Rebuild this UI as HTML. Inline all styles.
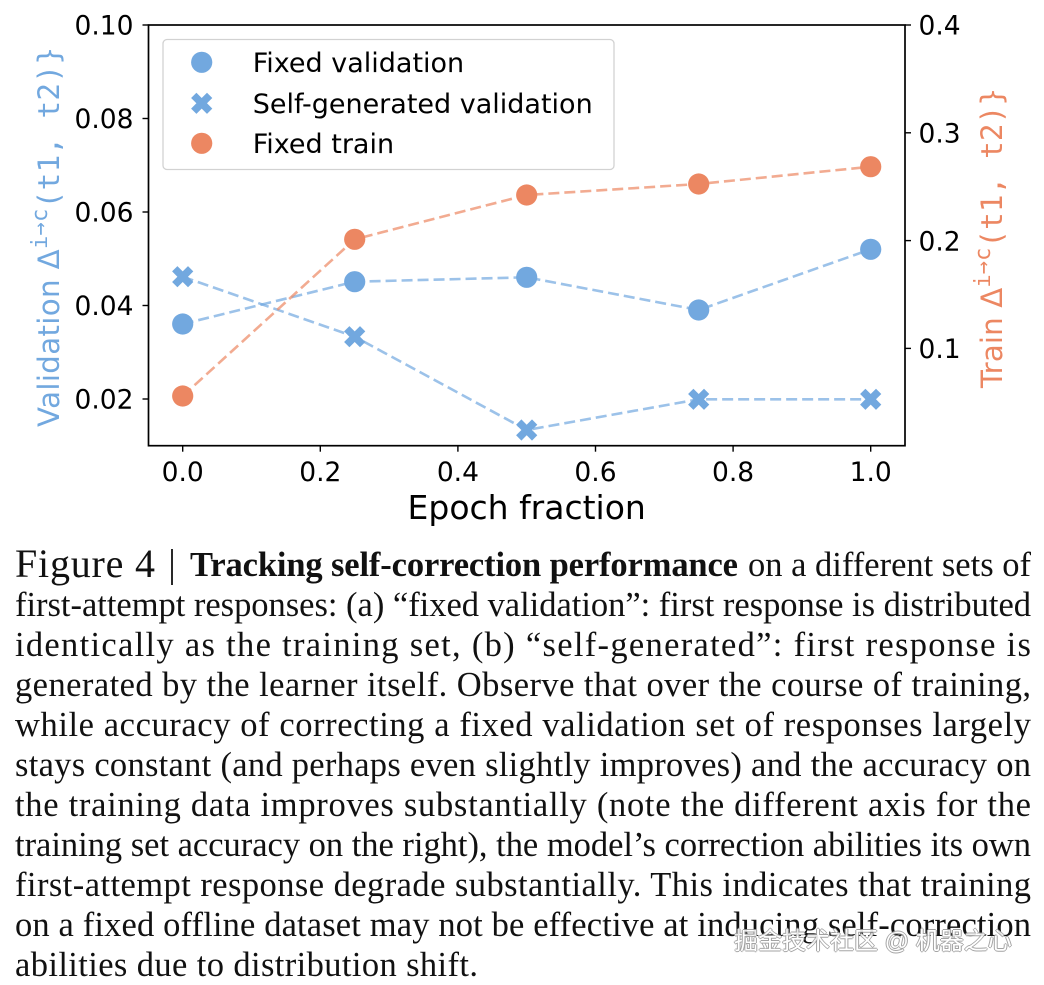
<!DOCTYPE html>
<html>
<head>
<meta charset="utf-8">
<style>
  html, body { margin: 0; padding: 0; background: #fff; }
  body { width: 1044px; height: 985px; overflow: hidden; position: relative; }
  svg { position: absolute; left: 0; top: 0; }
  .wm {
    position: absolute; left: 734px; top: 927px;
    font-family: "Liberation Sans", "Noto Sans CJK SC", sans-serif;
    font-size: 24px; line-height: 30px; color: #fff; white-space: nowrap;
    text-shadow: 1px 0 0 #9a9a9a, -1px 0 0 #9a9a9a, 0 1px 0 #9a9a9a, 0 -1px 0 #9a9a9a;
    opacity: 0.9;
  }
</style>
</head>
<body>
<svg width="1044" height="985" viewBox="0 0 1044 985" xmlns="http://www.w3.org/2000/svg">
  <defs>
    <path id="xm" d="M-5.3,-10.6 L0,-5.3 L5.3,-10.6 L10.6,-5.3 L5.3,0 L10.6,5.3 L5.3,10.6 L0,5.3 L-5.3,10.6 L-10.6,5.3 L-5.3,0 L-10.6,-5.3 Z"/>
  </defs>

  <!-- left-axis series lines -->
  <polyline points="182.7,324 354.7,281.7 526.7,277.3 698.7,310 870.7,249.3" fill="none" stroke="#72a8df" stroke-opacity="0.7" stroke-width="2.6" stroke-dasharray="11 5"/>
  <polyline points="182.7,276.7 354.7,336.7 526.7,430 698.7,399.3 870.7,399.3" fill="none" stroke="#72a8df" stroke-opacity="0.7" stroke-width="2.6" stroke-dasharray="11 5"/>
  <g fill="#72a8df">
    <circle cx="182.7" cy="324" r="10.6"/>
    <circle cx="354.7" cy="281.7" r="10.6"/>
    <circle cx="526.7" cy="277.3" r="10.6"/>
    <circle cx="698.7" cy="310" r="10.6"/>
    <circle cx="870.7" cy="249.3" r="10.6"/>
  </g>
  <g fill="#72a8df">
    <use href="#xm" x="182.7" y="276.7"/>
    <use href="#xm" x="354.7" y="336.7"/>
    <use href="#xm" x="526.7" y="430"/>
    <use href="#xm" x="698.7" y="399.3"/>
    <use href="#xm" x="870.7" y="399.3"/>
  </g>
  <polyline points="182.7,396 354.7,239.3 526.7,195 698.7,184 870.7,166.7" fill="none" stroke="#ec8762" stroke-opacity="0.7" stroke-width="2.6" stroke-dasharray="11 5"/>
  <g fill="#ec8762">
    <circle cx="182.7" cy="396" r="10.6"/>
    <circle cx="354.7" cy="239.3" r="10.6"/>
    <circle cx="526.7" cy="195" r="10.6"/>
    <circle cx="698.7" cy="184" r="10.6"/>
    <circle cx="870.7" cy="166.7" r="10.6"/>
  </g>

  <rect x="148.5" y="25" width="756.5" height="420.7" fill="none" stroke="#000" stroke-width="1.7"/>

  <g stroke="#000" stroke-width="1.4">
    <line x1="142.5" y1="25" x2="148.5" y2="25"/>
    <line x1="142.5" y1="118.5" x2="148.5" y2="118.5"/>
    <line x1="142.5" y1="212" x2="148.5" y2="212"/>
    <line x1="142.5" y1="305.5" x2="148.5" y2="305.5"/>
    <line x1="142.5" y1="399" x2="148.5" y2="399"/>
    <line x1="905" y1="25" x2="911" y2="25"/>
    <line x1="905" y1="132.8" x2="911" y2="132.8"/>
    <line x1="905" y1="240.6" x2="911" y2="240.6"/>
    <line x1="905" y1="348.4" x2="911" y2="348.4"/>
    <line x1="182.7" y1="445.7" x2="182.7" y2="451.7"/>
    <line x1="320.3" y1="445.7" x2="320.3" y2="451.7"/>
    <line x1="457.9" y1="445.7" x2="457.9" y2="451.7"/>
    <line x1="595.5" y1="445.7" x2="595.5" y2="451.7"/>
    <line x1="733.1" y1="445.7" x2="733.1" y2="451.7"/>
    <line x1="870.7" y1="445.7" x2="870.7" y2="451.7"/>
  </g>

  <g font-family="'DejaVu Sans', 'Liberation Sans', sans-serif" font-size="26.5" fill="#000">
    <g text-anchor="end">
      <text x="133.5" y="34.7">0.10</text>
      <text x="133.5" y="128.2">0.08</text>
      <text x="133.5" y="221.7">0.06</text>
      <text x="133.5" y="315.2">0.04</text>
      <text x="133.5" y="408.7">0.02</text>
    </g>
    <g text-anchor="start">
      <text x="918.5" y="34.7">0.4</text>
      <text x="918.5" y="142.5">0.3</text>
      <text x="918.5" y="250.3">0.2</text>
      <text x="918.5" y="358.1">0.1</text>
    </g>
    <g text-anchor="middle">
      <text x="182.7" y="481">0.0</text>
      <text x="320.3" y="481">0.2</text>
      <text x="457.9" y="481">0.4</text>
      <text x="595.5" y="481">0.6</text>
      <text x="733.1" y="481">0.8</text>
      <text x="870.7" y="481">1.0</text>
    </g>
    <text x="526.7" y="519" text-anchor="middle" font-size="33">Epoch fraction</text>
  </g>

  <text transform="translate(59,427) rotate(-90)" font-family="'DejaVu Sans', sans-serif" font-size="29.3" fill="#72a8df" textLength="380">Validation Δ<tspan font-family="'DejaVu Sans Mono', monospace" font-size="22" dy="-12">i→c</tspan><tspan font-family="'DejaVu Sans Mono', monospace" font-size="29.3" dy="12">(t1, t2)}</tspan></text>
  <text transform="translate(1002,388) rotate(-90)" font-family="'DejaVu Sans', sans-serif" font-size="29.3" fill="#ec8762" textLength="300">Train Δ<tspan font-family="'DejaVu Sans Mono', monospace" font-size="22" dy="-12">i→c</tspan><tspan font-family="'DejaVu Sans Mono', monospace" font-size="29.3" dy="12">(t1, t2)}</tspan></text>

  <rect x="163" y="39.5" width="451" height="130" rx="4" ry="4" fill="#fff" fill-opacity="0.8" stroke="#d2d2d2" stroke-width="1.3"/>
  <circle cx="201.7" cy="62.3" r="10.6" fill="#72a8df"/>
  <use href="#xm" x="201.7" y="103.3" fill="#72a8df"/>
  <circle cx="201.7" cy="143.3" r="10.6" fill="#ec8762"/>
  <g font-family="'DejaVu Sans', sans-serif" font-size="27" fill="#000">
    <text x="252.7" y="72">Fixed validation</text>
    <text x="252.7" y="113">Self-generated validation</text>
    <text x="252.7" y="153">Fixed train</text>
  </g>

  <!-- caption -->
  <g font-family="'Liberation Serif', 'Times New Roman', serif" font-size="34.5" fill="#111" lengthAdjust="spacing">
    <text x="15" y="577" font-size="40" textLength="140" lengthAdjust="spacing">Figure 4</text>
    <line x1="172" y1="549" x2="172" y2="585" stroke="#111" stroke-width="1.8"/>
    <text x="190" y="576" font-weight="bold" textLength="548" lengthAdjust="spacing">Tracking self-correction performance</text>
    <text x="748" y="576" textLength="283" lengthAdjust="spacing">on a different sets of</text>
    <text x="15" y="616" textLength="1016" lengthAdjust="spacing">first-attempt responses: (a) “fixed validation”: first response is distributed</text>
    <text x="15" y="656" textLength="1016" lengthAdjust="spacing">identically as the training set, (b) “self-generated”: first response is</text>
    <text x="15" y="696" textLength="1016" lengthAdjust="spacing">generated by the learner itself. Observe that over the course of training,</text>
    <text x="15" y="736" textLength="1016" lengthAdjust="spacing">while accuracy of correcting a fixed validation set of responses largely</text>
    <text x="15" y="776" textLength="1016" lengthAdjust="spacing">stays constant (and perhaps even slightly improves) and the accuracy on</text>
    <text x="15" y="816" textLength="1016" lengthAdjust="spacing">the training data improves substantially (note the different axis for the</text>
    <text x="15" y="856" textLength="1016" lengthAdjust="spacing">training set accuracy on the right), the model’s correction abilities its own</text>
    <text x="15" y="896" textLength="1016" lengthAdjust="spacing">first-attempt response degrade substantially. This indicates that training</text>
    <text x="15" y="936" textLength="1016" lengthAdjust="spacing">on a fixed offline dataset may not be effective at inducing self-correction</text>
    <text x="15" y="976" textLength="463" lengthAdjust="spacing">abilities due to distribution shift.</text>
  </g>
</svg>

<div class="wm">掘金技术社区 @ 机器之心</div>
</body>
</html>
